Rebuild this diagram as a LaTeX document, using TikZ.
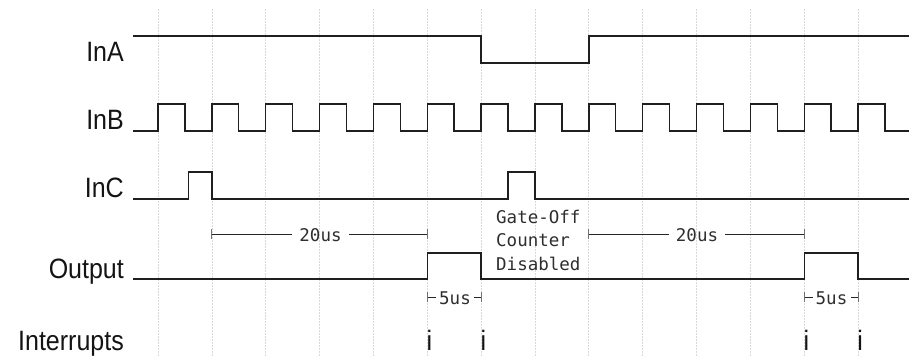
\documentclass[tikz,border=0pt]{standalone}
\usepackage{fontspec}
\setmainfont{Liberation Sans}
\newfontfamily\monof{DejaVu Sans Mono}
\newcommand{\tallt}[1]{\scalebox{1}[1.12]{#1}}
\begin{document}
\begin{tikzpicture}[x=1pt,y=-1pt,
  sig/.style={line width=1.4pt, black!88, line join=miter},
  gridl/.style={gray!30, line width=0.7pt, dash pattern=on 2pt off 1pt},
  lbl/.style={font=\fontsize{25}{30}\selectfont, anchor=base east, inner sep=0pt, text=black!92},
  small/.style={font=\monof\fontsize{17.5}{20}\selectfont, inner sep=0pt, text=black!82},
  intr/.style={font=\fontsize{25}{30}\selectfont, anchor=base, inner sep=0pt, text=black!92},
  dim/.style={line width=0.9pt, black!85},
  tickm/.style={line width=0.8pt, black!55}]
\useasboundingbox (0,0) rectangle (909,356);
% grid
\foreach \k in {0,...,13}
  \draw[gridl] ({158+53.85*\k},9) -- ({158+53.85*\k},356);
% labels
\node[lbl] (inA) at (124,61) {\tallt{InA}};
\node[lbl] (inB) at (124,129) {\tallt{InB}};
\node[lbl] (inC) at (124,197) {\tallt{InC}};
\node[lbl] (out) at (124,278) {\tallt{Output}};
\node[lbl] (intrl) at (124,350) {\tallt{Interrupts}};
% waveforms
\draw[sig] (133,36) -- (481.1,36) -- (481.1,63) -- (588.8,63) -- (588.8,36) -- (909,36);
\draw[sig] (133,131) \foreach \k in {0,...,13} {
   -- ({158+53.85*\k},131) -- ({158+53.85*\k},104) -- ({184.9+53.85*\k},104) -- ({184.9+53.85*\k},131) } -- (909,131);
\draw[sig] (133,199) -- (188.5,199) -- (188.5,172) -- (211.85,172) -- (211.85,199)
   -- (508,199) -- (508,172) -- (534.95,172) -- (534.95,199) -- (909,199);
\draw[sig] (133,279) -- (427.25,279) -- (427.25,253) -- (481.1,253) -- (481.1,279)
   -- (804.2,279) -- (804.2,253) -- (858.05,253) -- (858.05,279) -- (909,279);
% 20us dimensions
\coordinate (a1) at (211.85,234);
\coordinate (a2) at (427.25,234);
\coordinate (b1) at (588.8,234);
\coordinate (b2) at (804.2,234);
\node[small, anchor=base] (d20a) at (320.5,241.5) {20us};
\node[small, anchor=base] (d20b) at (697,241.5) {20us};
\draw[dim] (a1) -- ([xshift=-7pt]a1 -| d20a.west);
\draw[dim] (a2) -- ([xshift=7pt]a2 -| d20a.east);
\draw[dim] (b1) -- ([xshift=-7pt]b1 -| d20b.west);
\draw[dim] (b2) -- ([xshift=7pt]b2 -| d20b.east);
\foreach \c in {a1,a2,b1,b2}
  \draw[tickm] ([yshift=-5pt]\c) -- ([yshift=5pt]\c);
% 5us dimensions
\coordinate (c1) at (427.25,297);
\coordinate (c2) at (481.1,297);
\coordinate (e1) at (804.2,297);
\coordinate (e2) at (858.05,297);
\node[small, anchor=base] (d5a) at (455,304) {5us};
\node[small, anchor=base] (d5b) at (831.5,304) {5us};
\draw[dim] (c1) -- ([xshift=-3pt]c1 -| d5a.west);
\draw[dim] (c2) -- ([xshift=3pt]c2 -| d5a.east);
\draw[dim] (e1) -- ([xshift=-3pt]e1 -| d5b.west);
\draw[dim] (e2) -- ([xshift=3pt]e2 -| d5b.east);
\foreach \c in {c1,c2,e1,e2}
  \draw[tickm] ([yshift=-5pt]\c) -- ([yshift=5pt]\c);
% gate-off note
\node[small, anchor=base west] (g1) at (496,223) {Gate-Off};
\node[small, anchor=base west] (g2) at (496,246.5) {Counter};
\node[small, anchor=base west] (g3) at (496,270) {Disabled};
% interrupts
\node[intr] (i1) at (429.5,350) {\tallt{i}};
\node[intr] (i2) at (483.3,350) {\tallt{i}};
\node[intr] (i3) at (806.4,350) {\tallt{i}};
\node[intr] (i4) at (860.2,350) {\tallt{i}};
\end{tikzpicture}
\end{document}
